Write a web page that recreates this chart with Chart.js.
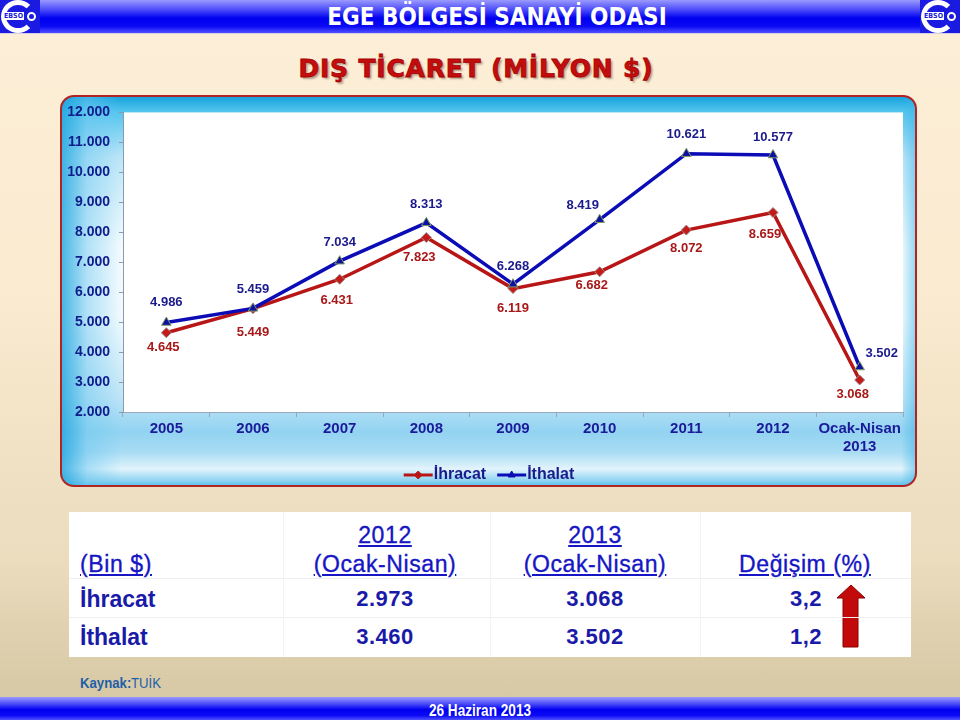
<!DOCTYPE html>
<html lang="tr"><head><meta charset="utf-8">
<title>Dış Ticaret</title>
<script src="https://cdn.jsdelivr.net/npm/chart.js@4.4.1/dist/chart.umd.min.js"></script>
<style>
html,body{margin:0;padding:0}
body{width:960px;height:720px;position:relative;overflow:hidden;font-family:"Liberation Sans",Arial,sans-serif;
 background:linear-gradient(to bottom,#FDEFD8 0px,#FAEAD0 300px,#EADCBD 560px,#D6C8A4 700px);}
.abs{position:absolute}
.bar{left:0;width:960px;background:linear-gradient(to bottom,#9A9AFF 0%,#4A4AFA 30%,#0000F0 55%,#0A0AF5 80%,#5050FF 100%)}
#top{top:0;height:33px;border-bottom:1px solid #D8D0E0}
#toptext{left:0;top:1px;width:960px;height:33px;line-height:33px;text-align:center;color:#fff;font-family:"DejaVu Sans Condensed","DejaVu Sans";font-weight:bold;font-size:24px;padding-left:34px;box-sizing:border-box;white-space:nowrap}
.logo{top:0;width:40px;height:33px;background:#1A1AE0;overflow:hidden}
.ring{position:absolute;left:1px;top:0px;width:24px;height:23px;border:5px solid #fff;border-right-color:transparent;border-radius:50%}
.ebso{position:absolute;left:3px;top:12px;width:21px;height:8px;background:#fff;font:bold 7px "DejaVu Sans Condensed";color:#1A1AE0;line-height:8px;text-align:center}
.dot{position:absolute;left:27px;top:12px;width:5px;height:5px;border:2px solid #fff;border-radius:50%}
#title{left:0;top:54px;width:952px;line-height:30px;text-align:center;font:bold 25px "DejaVu Sans";letter-spacing:0.8px;color:#C20E0E;-webkit-text-stroke:0.8px #A80000;text-shadow:2px 2px 2px rgba(90,60,40,0.45);white-space:nowrap}
#box{left:60px;top:95px;width:857px;height:392px;box-sizing:border-box;border:2px solid #B02424;border-radius:14px;
 background:
  linear-gradient(to right, rgba(30,165,222,0.8) 0px, rgba(110,200,240,0.5) 25px, rgba(255,255,255,0) 60px),
  linear-gradient(to left, rgba(60,180,230,0.5) 0px, rgba(255,255,255,0) 14px),
  linear-gradient(to bottom,#16A2DC 0px,#52C4EE 14px,#BDE6F8 60px,#F4FBFE 150px,#F2FAFE 220px,#BFE5F7 300px,#92D3F1 335px,#A8DCF4 355px,#E2F4FC 372px,#8CD2F1 384px,#2CB0E6 392px);}
#c{left:60px;top:95px}
#tbl{left:69px;top:512px;width:842px;height:145px;background:#fff}
.hl{background:#EFEFEF;height:1px}
.vl{background:#F3F3F3;width:1px}
.t{position:absolute;white-space:nowrap}
#foot{top:697px;height:23px}
</style>
</head><body>
<div class="abs bar" id="top"></div>
<div class="abs" id="toptext">EGE BÖLGESİ SANAYİ ODASI</div>
<div class="abs logo" style="left:0"><div class="ring"></div><div class="ebso">EBSO</div><div class="dot"></div></div>
<div class="abs logo" style="left:920px"><div class="ring"></div><div class="ebso">EBSO</div><div class="dot"></div></div>
<div class="abs" id="title">DIŞ TİCARET (MİLYON $)</div>
<div class="abs" id="box"></div>
<canvas id="c" class="abs" width="857" height="392" style="width:857px;height:392px"></canvas>
<div class="abs" id="tbl"></div>
<svg class="abs" style="left:830px;top:580px" width="40" height="72">
 <polygon points="21,5 35,18 28,18 28,67 13,67 13,18 7,18" fill="#C20A0A" stroke="#8E0000" stroke-width="1"/>
</svg>
<div class="abs bar" id="foot"></div>
<div id="layer"></div>
<script>
// ---------- DATA ----------
const categories = ['2005','2006','2007','2008','2009','2010','2011','2012',['Ocak-Nisan','2013']];
const ihracat = [4645, 5449, 6431, 7823, 6119, 6682, 8072, 8659, 3068];
const ithalat = [4986, 5459, 7034, 8313, 6268, 8419, 10621, 10577, 3502];
const yMin = 2000, yMax = 12000, yStep = 1000;
const seriesNames = ['İhracat', 'İthalat'];

const tableHeadCols = [['2012','(Ocak-Nisan)'], ['2013','(Ocak-Nisan)'], ['Değişim (%)']];
const tableUnit = '(Bin $)';
const tableRows = ['İhracat', 'İthalat'];
const val2012 = ['2.973', '3.460'];
const val2013 = ['3.068', '3.502'];
const changePct = ['3,2', '1,2'];

// ---------- STYLE ----------
const RED = '#B81616', BLUE = '#0C0CB6';
const RED_TXT = '#A81818', BLUE_TXT = '#1A1A8C';
const FONT = '"Liberation Sans", Arial, sans-serif';
// label offsets (px) relative to each point: [dx, dy]
const ihrOff = [[-3,15],[0,24],[-3,21],[-7,20],[0,20],[-8,14],[0,18],[-8,22],[-7,14]];
const ithOff = [[0,-20],[0,-19],[0,-19],[0,-18],[0,-18],[-17,-14],[0,-19],[0,-18],[22,-14]];

const fmt = v => String(v).replace(/\B(?=(\d{3})+(?!\d))/g, '.');

const deco = {
  id: 'deco',
  beforeDraw(chart) {
    const {ctx, chartArea: a} = chart;
    ctx.save(); ctx.fillStyle = '#fff';
    ctx.fillRect(a.left, a.top, a.right - a.left, a.bottom - a.top);
    ctx.restore();
  },
  afterDatasetsDraw(chart) {
    const ctx = chart.ctx;
    ctx.save();
    ctx.font = 'bold 13px ' + FONT;
    ctx.textAlign = 'center'; ctx.textBaseline = 'middle';
    chart.data.datasets.forEach((ds, i) => {
      const meta = chart.getDatasetMeta(i);
      const offs = i === 0 ? ihrOff : ithOff;
      ctx.fillStyle = i === 0 ? RED_TXT : BLUE_TXT;
      meta.data.forEach((pt, j) => {
        ctx.fillText(fmt(ds.data[j]), pt.x + offs[j][0], pt.y + offs[j][1]);
      });
    });
    ctx.restore();
  },
  afterDraw(chart) {
    const ctx = chart.ctx;
    ctx.save();
    ctx.font = 'bold 16px ' + FONT;
    ctx.textBaseline = 'middle'; ctx.textAlign = 'left';
    const items = chart.data.datasets.map(ds => ({text: ds.label, color: ds.borderColor, style: ds.pointStyle}));
    const lineW = 29, gapT = 1, gapI = 11, cx = 429, cy = 380;
    const widths = items.map(it => lineW + gapT + ctx.measureText(it.text).width);
    let x = cx - (widths.reduce((a, b) => a + b, 0) + gapI * (items.length - 1)) / 2;
    items.forEach((it, k) => {
      ctx.strokeStyle = it.color; ctx.lineWidth = 3;
      ctx.beginPath(); ctx.moveTo(x, cy); ctx.lineTo(x + lineW, cy); ctx.stroke();
      ctx.fillStyle = it.color; ctx.strokeStyle = it.color; ctx.lineWidth = 1;
      Chart.helpers.drawPoint(ctx, {pointStyle: it.style, radius: 4, borderWidth: 1, rotation: 0}, x + lineW / 2, cy);
      ctx.fillStyle = BLUE_TXT;
      ctx.fillText(it.text, x + lineW + gapT, cy);
      x += widths[k] + gapI;
    });
    ctx.restore();
  }
};

new Chart(document.getElementById('c'), {
  type: 'line',
  data: {
    labels: categories,
    datasets: [
      {label: seriesNames[0], data: ihracat, order: 1, borderColor: RED, backgroundColor: RED, borderWidth: 3.5,
       pointStyle: 'rectRot', pointRadius: 5, pointBackgroundColor: '#C41A1A', pointBorderColor: '#9B8C8C', pointBorderWidth: 1, tension: 0},
      {label: seriesNames[1], data: ithalat, order: 0, borderColor: BLUE, backgroundColor: BLUE, borderWidth: 3.5,
       pointStyle: 'triangle', pointRadius: 5.5, pointBackgroundColor: '#1010A0', pointBorderColor: '#7E9B62', pointBorderWidth: 1, tension: 0}
    ]
  },
  options: {
    responsive: false, animation: false, devicePixelRatio: 1,
    layout: {padding: {top: 15, right: 14, left: 0, bottom: 0}},
    plugins: {legend: {display: false}, tooltip: {enabled: false}},
    scales: {
      x: {
        offset: true,
        grid: {offset: true, drawOnChartArea: false, drawTicks: true, tickLength: 5, color: '#98A8BA'},
        border: {color: '#98A8BA'},
        ticks: {font: {family: FONT, size: 15, weight: 'bold'}, color: '#1A1A9A', padding: 3, maxRotation: 0, autoSkip: false},
        afterFit(s) { s.height = 75; }
      },
      y: {
        min: yMin, max: yMax,
        grid: {drawOnChartArea: false, drawTicks: true, tickLength: 4, color: '#8A9BB0'},
        border: {color: '#8A9BB0'},
        ticks: {stepSize: yStep, callback: v => fmt(v), font: {family: FONT, size: 14, weight: 'bold'}, color: '#0F1C8C', padding: 9},
        afterFit(s) { s.width = 63; }
      }
    }
  },
  plugins: [deco]
});

// ---------- TABLE & TEXT ----------
const layer = document.getElementById('layer');
function place(text, x, baseline, align, opts) {
  const fs = opts.size, d = document.createElement('div');
  d.className = 't';
  d.textContent = text;
  d.style.font = (opts.weight || 'normal') + ' ' + fs + 'px ' + (opts.family || FONT);
  d.style.lineHeight = fs + 'px';
  d.style.color = opts.color;
  if (opts.ls) d.style.letterSpacing = opts.ls + 'px';
  if (opts.ul) d.style.textDecoration = 'underline';
  if (opts.stroke) d.style.webkitTextStroke = opts.stroke + 'px ' + opts.color;
  d.style.top = (baseline - 0.8465 * fs) + 'px';
  if (align === 'left') { d.style.left = x + 'px'; d.style.transformOrigin = 'left center'; }
  else if (align === 'center') { d.style.left = (x - 200) + 'px'; d.style.width = '400px'; d.style.textAlign = 'center'; d.style.transformOrigin = 'center center'; }
  else { d.style.left = (x - 400) + 'px'; d.style.width = '400px'; d.style.textAlign = 'right'; d.style.transformOrigin = 'right center'; }
  if (opts.sx) d.style.transform = 'scaleX(' + opts.sx + ')';
  layer.appendChild(d);
  return d;
}
// faint grid in table
[[69,578,842],[69,617,842]].forEach(([x,y,w]) => { const d=document.createElement('div'); d.className='abs hl'; d.style.left=x+'px'; d.style.top=y+'px'; d.style.width=w+'px'; layer.appendChild(d); });
[283,490,700].forEach(x => { const d=document.createElement('div'); d.className='abs vl'; d.style.left=x+'px'; d.style.top='512px'; d.style.height='145px'; layer.appendChild(d); });

const HEAD = '#1616C4', BODY = '#1A1AA8';
const colX = [385, 595, 805];
const hOpt = {size: 23, color: HEAD, ul: true, ls: 0.6, stroke: 0.35};
place(tableUnit, 80, 572, 'left', hOpt);
tableHeadCols.forEach((lines, c) => {
  if (lines.length === 2) {
    place(lines[0], colX[c], 543, 'center', hOpt);
    place(lines[1], colX[c], 572, 'center', hOpt);
  } else {
    place(lines[0], colX[c], 572, 'center', hOpt);
  }
});
const rowBase = [607, 645];
tableRows.forEach((r, i) => {
  place(r, 80, rowBase[i], 'left', {size: 23, weight: 'bold', color: BODY});
  place(val2012[i], colX[0], rowBase[i], 'center', {size: 22, weight: 'bold', color: BODY, ls: 0.5});
  place(val2013[i], colX[1], rowBase[i], 'center', {size: 22, weight: 'bold', color: BODY, ls: 0.5});
  place(changePct[i], 822, rowBase[i], 'right', {size: 22, weight: 'bold', color: BODY, ls: 0.5});
});

// source
const SX = 0.88;
const k = place('Kaynak:', 80, 688, 'left', {size: 15, weight: 'bold', color: '#1F5FA8', sx: SX});
const kw = k.getBoundingClientRect().width;
place('TUİK', 80 + kw, 688, 'left', {size: 15, color: '#1F5FA8', sx: SX});
// footer date
place('26 Haziran 2013', 480, 716, 'center', {size: 17, weight: 'bold', color: '#FFFFFF', sx: 0.8});
</script>
</body></html>
